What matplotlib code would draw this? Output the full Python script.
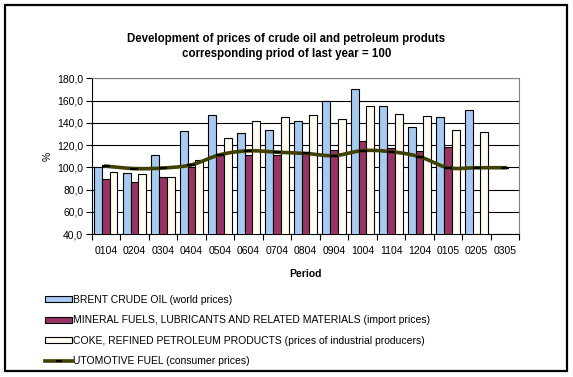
import numpy as np
import matplotlib
matplotlib.use("Agg")
import matplotlib.pyplot as plt
from matplotlib.patches import Rectangle
from matplotlib.lines import Line2D
from matplotlib.ticker import FuncFormatter, FixedLocator

plt.rcParams['font.family'] = ['Liberation Sans', 'DejaVu Sans']

periods = ['0104', '0204', '0304', '0404', '0504', '0604', '0704', '0804',
           '0904', '1004', '1104', '1204', '0105', '0205', '0305']
brent = [100.5, 94.6, 110.7, 132.3, 146.7, 130.5, 133.2, 141.3,
         160.0, 170.0, 155.0, 136.2, 145.0, 151.5, np.nan]
mineral = [89.1, 86.5, 91.3, 100.0, 112.2, 110.7, 110.7, 113.0,
           115.2, 123.6, 117.0, 114.6, 118.0, np.nan, np.nan]
coke = [95.4, 93.7, 91.0, 106.2, 126.0, 141.3, 144.9, 147.0,
        143.0, 155.0, 148.0, 146.0, 133.5, 131.7, np.nan]
fuel = [101.0, 98.8, 99.3, 102.2, 111.3, 114.8, 113.6, 112.5,
        110.4, 115.0, 114.0, 109.5, 99.6, 99.6, 99.6]

labels = ['BRENT CRUDE OIL (world prices)',
          'MINERAL FUELS, LUBRICANTS AND RELATED MATERIALS (import prices)',
          'COKE, REFINED PETROLEUM PRODUCTS (prices of industrial producers)',
          'UTOMOTIVE FUEL (consumer prices)']
colors = ['#A6CAF0', '#993366', '#FFFBF0']
line_color = '#404000'


def smooth(xs, ys, n=20):
    # catmull-rom curve through the points, like excel's smoothed line
    xs = np.asarray(xs, float)
    ys = np.asarray(ys, float)
    px = np.concatenate([[2 * xs[0] - xs[1]], xs, [2 * xs[-1] - xs[-2]]])
    py = np.concatenate([[2 * ys[0] - ys[1]], ys, [2 * ys[-1] - ys[-2]]])
    outx, outy = [], []
    t = np.linspace(0, 1, n, endpoint=False)
    for i in range(1, len(px) - 2):
        for p, out in ((px, outx), (py, outy)):
            p0, p1, p2, p3 = p[i - 1], p[i], p[i + 1], p[i + 2]
            out.extend(0.5 * (2 * p1 + (-p0 + p2) * t
                              + (2 * p0 - 5 * p1 + 4 * p2 - p3) * t ** 2
                              + (-p0 + 3 * p1 - 3 * p2 + p3) * t ** 3))
    outx.append(xs[-1])
    outy.append(ys[-1])
    return outx, outy


fig = plt.figure(figsize=(5.73, 3.77), dpi=100)
fig.patches.append(Rectangle((5 / 573, 1 - 371 / 377), 562 / 573, 366 / 377,
                             transform=fig.transFigure, fill=False,
                             edgecolor='black', linewidth=1.6))

ax = fig.add_axes([91.7 / 573, 1 - 234 / 377, 427.6 / 573, 155.7 / 377])

x = np.arange(len(periods))
w = 0.27
for off, vals, c in zip([-w, 0, w], [brent, mineral, coke], colors):
    ax.bar(x + off, vals, w, bottom=0, color=c, edgecolor='black',
           linewidth=0.8, zorder=3)

sx, sy = smooth(x, fuel)
ax.plot(sx, sy, color=line_color, linewidth=2.6, zorder=4)
ax.plot(x, fuel, linestyle='none', marker='_', markersize=6,
        markeredgewidth=1.6, color='black', zorder=5)

ax.set_xlim(-0.5, len(periods) - 0.5)
ax.set_ylim(40, 180)
ax.set_yticks(np.arange(40, 181, 20))
ax.yaxis.set_major_formatter(FuncFormatter(lambda v, p: f'{v:.1f}'.replace('.', ',')))
ax.grid(axis='y', color='black', linewidth=0.8, zorder=0)

ax.xaxis.set_major_locator(FixedLocator(np.arange(-0.5, len(periods), 1)))
ax.xaxis.set_minor_locator(FixedLocator(x))
ax.set_xticklabels([])
ax.set_xticklabels(periods, minor=True)
ax.tick_params(axis='x', which='major', direction='out', length=4, width=0.8)
ax.tick_params(axis='x', which='minor', length=0, pad=9, labelsize=7.5)
ax.tick_params(axis='y', direction='out', length=4, width=0.8, labelsize=7.5, pad=2)

for s in ['top', 'right']:
    ax.spines[s].set_color('#808080')
for s in ['left', 'bottom']:
    ax.spines[s].set_color('black')

ax.set_ylabel('%', fontsize=7.5, labelpad=3)
ax.set_xlabel('Period', fontsize=7.5, fontweight='bold', labelpad=9)

fig.text(0.5, 1 - 39 / 377, 'Development of prices of crude oil and petroleum produts',
         ha='center', va='center', fontsize=8.3, fontweight='bold')
fig.text(0.5, 1 - 54 / 377, 'corresponding priod of last year = 100',
         ha='center', va='center', fontsize=8.3, fontweight='bold')

handles = [Rectangle((0, 0), 1, 1, facecolor=c, edgecolor='black', linewidth=0.8)
           for c in colors]
handles.append(Line2D([], [], color=line_color, linewidth=2.6, marker='_',
                      markersize=5, markeredgecolor='black', markeredgewidth=1.6))
fig.legend(handles, labels, loc='upper left', bbox_to_anchor=(45 / 573, 1 - 295 / 377),
           frameon=False, fontsize=7.5, handlelength=2.6, handleheight=0.5,
           handletextpad=0.1, labelspacing=1.0, borderaxespad=0, borderpad=0)

fig.savefig('out.png', dpi=100)
